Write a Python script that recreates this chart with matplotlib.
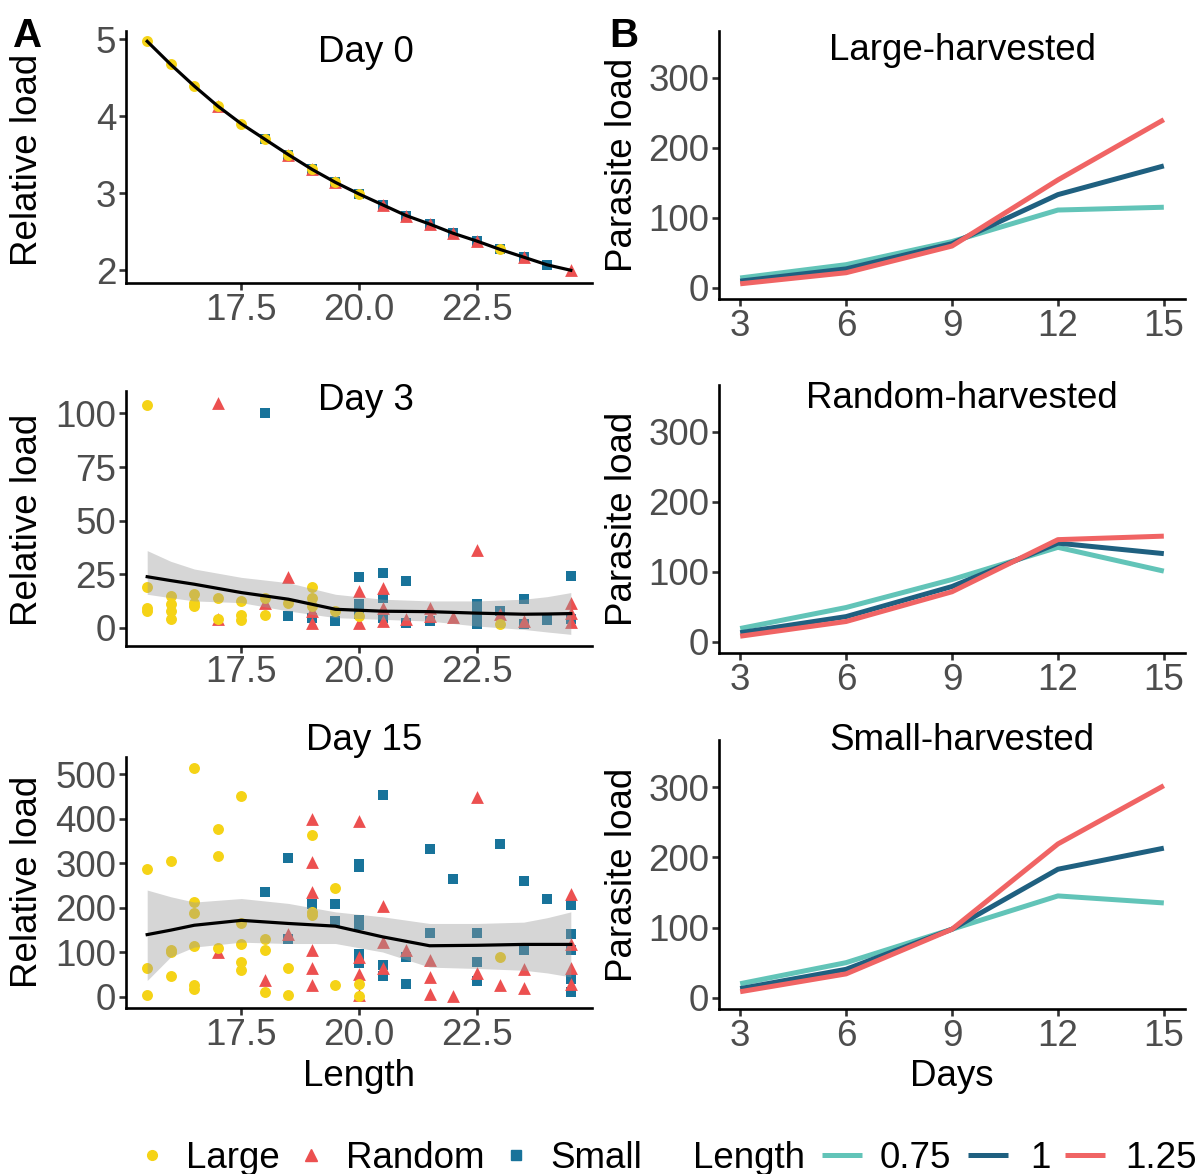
import matplotlib
matplotlib.use("Agg")
import matplotlib.pyplot as plt
from matplotlib.lines import Line2D
import numpy as np

plt.rcParams['font.family'] = ['Liberation Sans', 'DejaVu Sans']

# ---------------- Data: panel A ----------------
# Day 0
d0_large_x = [15.5, 16, 16.5, 17, 17.5, 18, 18.5, 19, 19.5, 20, 23]
d0_large_y = [4.97, 4.67, 4.39, 4.13, 3.90, 3.70, 3.50, 3.31, 3.14, 2.99, 2.27]
d0_random_x = [17, 18.5, 19, 19.5, 20.5, 21, 21.5, 22, 22.5, 23.5, 24.5]
d0_random_y = [4.13, 3.50, 3.31, 3.14, 2.85, 2.71, 2.60, 2.48, 2.38, 2.17, 2.00]
d0_small_x = [18, 18.5, 19, 19.5, 20, 20.5, 21, 21.5, 22, 22.5, 23, 23.5, 24]
d0_small_y = [3.70, 3.50, 3.31, 3.14, 2.99, 2.85, 2.71, 2.60, 2.48, 2.38, 2.27, 2.17, 2.07]
d0_fit_x = [15.5, 16, 16.5, 17, 17.5, 18, 18.5, 19, 19.5, 20, 20.5, 21, 21.5, 22, 22.5, 23, 23.5, 24, 24.5]
d0_fit_y = [4.97, 4.67, 4.39, 4.13, 3.90, 3.70, 3.50, 3.31, 3.14, 2.99, 2.85, 2.71, 2.60, 2.48, 2.38, 2.27, 2.17, 2.07, 2.00]

# Day 3
d3_large_x = [15.5, 15.5, 15.5, 15.5, 16, 16, 16, 16, 16.5, 16.5, 16.5, 17, 17, 17.5, 17.5, 17.5,
              18, 18, 18.5, 19, 19, 19, 19.5, 20, 23]
d3_large_y = [103.8, 19.2, 9, 8, 15, 11, 8, 4, 15.6, 11.7, 9.9, 14, 4, 12.5, 6, 3.4,
              14, 6, 11.7, 18.8, 14, 10, 7.8, 5.5, 1.9]
d3_random_x = [17, 17, 18, 18.5, 19, 19, 20, 20, 20.5, 20.5, 20.5, 21, 21.5, 21.5, 22, 22.5, 23,
               23.5, 24.5, 24.5, 24.5]
d3_random_y = [104.8, 4, 11.7, 23.5, 7.8, 2.3, 17.2, 2.3, 18.5, 9.4, 3, 4, 9.4, 5.5, 5, 36.3, 6.3,
               3, 11.3, 7, 2.8]
d3_small_x = [18, 18.5, 19, 19.5, 20, 20, 20, 20.5, 20.5, 20.5, 21, 21, 21.5, 22.5, 22.5, 22.5, 23,
              23.5, 23.5, 24, 24.5, 24.5]
d3_small_y = [100, 5.5, 4.7, 3.1, 23.5, 11, 6.3, 25.4, 14, 4.7, 21.9, 2.3, 3.1, 11, 6.3, 1.6, 7.8,
              13.3, 1.6, 3.4, 24, 3.9]

fit_x = [15.5, 16, 16.5, 17.5, 18.5, 19.5, 20.5, 21.5, 22.5, 23.5, 24, 24.5]
d3_fit = [23.8, 22, 20.3, 16.4, 13.3, 8.6, 7.7, 7.5, 6.8, 6.3, 6.4, 6.6]
d3_upper = [36, 31, 27.4, 23.5, 21, 15.6, 13.3, 12.5, 12.5, 13.3, 14.5, 16.4]
d3_lower = [15.6, 14, 12.5, 11.7, 7.8, 4.7, 3.9, 3.1, 0.8, -0.8, -2, -3.1]

# Day 15
d15_large_x = [15.5, 15.5, 15.5, 16, 16, 16, 16, 16.5, 16.5, 16.5, 16.5, 16.5, 16.5, 17, 17, 17,
               17.5, 17.5, 17.5, 17.5, 17.5, 18, 18, 18, 18.5, 18.5, 19, 19, 19, 19.5, 19.5,
               20, 20, 23]
d15_large_y = [287, 64, 4, 305, 106, 100, 46, 513, 213, 189, 115, 26, 19, 377, 316, 109,
               451, 165, 118, 79, 60, 131, 105, 11, 64, 5, 363, 191, 183, 245, 26,
               30, 1.5, 90]
d15_random_x = [17, 18, 18.5, 19, 19, 19, 19, 19, 19, 20, 20, 20, 20, 20.5, 20.5, 20.5, 21,
                21.5, 21.5, 21.5, 22, 22.5, 22.5, 23, 23.5, 23.5, 24.5, 24.5, 24.5, 24.5]
d15_random_y = [101, 39, 142, 399, 303, 236, 105, 64, 28, 394, 90, 52, 4, 204, 123, 64, 105,
                82, 45, 7, 1.5, 449, 54, 26, 62, 21, 232, 120, 64, 30]
d15_small_x = [18, 18.5, 18.5, 19, 19.5, 19.5, 20, 20, 20, 20, 20, 20, 20.5, 20.5, 20.5, 21, 21,
               21.5, 21.5, 22, 22.5, 22.5, 22.5, 23, 23.5, 23.5, 24, 24.5, 24.5, 24.5, 24.5, 24.5]
d15_small_y = [236, 313, 131, 208, 208, 171, 299, 292, 172, 161, 97, 76, 453, 71, 46, 90, 30,
               332, 144, 264, 144, 79, 35, 343, 260, 105, 221, 206, 142, 106, 41, 11]
d15_fit = [140, 150, 161, 172, 165, 159, 135, 115, 116, 118, 118, 118]
d15_upper = [240, 225, 213, 221, 210, 191, 180, 165, 165, 168, 178, 191]
d15_lower = [37, 90, 112, 123, 120, 120, 101, 67, 64, 60, 54, 45]

# ---------------- Data: panel B ----------------
days = [3, 6, 9, 12, 15]
size_levels = ["0.75", "1", "1.25"]
large_harv = {"0.75": [14, 33, 66, 111, 115],
              "1": [9.5, 27, 63, 133, 174],
              "1.25": [5.7, 21.5, 59.6, 154, 240]}
random_harv = {"0.75": [19, 49, 89, 135, 101],
               "1": [13, 36, 79, 141, 126],
               "1.25": [8, 29, 71.5, 146, 151]}
small_harv = {"0.75": [20, 50, 97.6, 145, 135],
              "1": [13, 40.5, 97.6, 183, 213],
              "1.25": [8.6, 34, 97.6, 219, 302]}

# ---------------- Styles ----------------
C_LARGE = "#F5D316"
C_RANDOM = "#EC5050"
C_SMALL = "#18739A"
LINE_COLS = {"0.75": "#62C4B8", "1": "#1F6080", "1.25": "#F06464"}
TICK_COL = "#4D4D4D"
FS = 26.5

W, H = 1202, 1174
fig = plt.figure(figsize=(W / 100, H / 100), dpi=100)


def rect(x0, y0, x1, y1):
    return [x0 / W, 1 - y1 / H, (x1 - x0) / W, (y1 - y0) / H]


def style(ax):
    for s in ["top", "right"]:
        ax.spines[s].set_visible(False)
    for s in ["left", "bottom"]:
        ax.spines[s].set_linewidth(1.9)
        ax.spines[s].set_color("black")
    ax.tick_params(axis="both", length=5, width=1.9, color="#333333",
                   labelsize=FS, labelcolor=TICK_COL)
    ax.tick_params(axis="x", pad=2)
    ax.tick_params(axis="y", pad=2)


def scatter_panel(ax, groups, fx, fy, lo=None, hi=None):
    sx, sy = groups["small"]
    rx, ry = groups["random"]
    lx, ly = groups["large"]
    ax.scatter(sx, sy, marker="s", s=52, color=C_SMALL, linewidths=0, zorder=2)
    ax.scatter(rx, ry, marker="^", s=85, color=C_RANDOM, linewidths=0, zorder=2)
    ax.scatter(lx, ly, marker="o", s=62, color=C_LARGE, linewidths=0, zorder=2)
    if lo is not None:
        ax.fill_between(fx, lo, hi, color="#999999", alpha=0.4, linewidth=0, zorder=3)
    ax.plot(fx, fy, color="black", lw=2.3, zorder=4)
    ax.set_xlim(15.05, 24.95)
    ax.set_xticks([17.5, 20.0, 22.5])
    ax.set_xticklabels(["17.5", "20.0", "22.5"])


# Panel A
axA0 = fig.add_axes(rect(126, 30.7, 592, 283))
scatter_panel(axA0, {"small": (d0_small_x, d0_small_y), "random": (d0_random_x, d0_random_y),
                     "large": (d0_large_x, d0_large_y)}, d0_fit_x, d0_fit_y)
axA0.set_ylim(1.835, 5.108)
axA0.set_yticks([2, 3, 4, 5])
style(axA0)

axA1 = fig.add_axes(rect(126, 391, 592, 645.7))
scatter_panel(axA1, {"small": (d3_small_x, d3_small_y), "random": (d3_random_x, d3_random_y),
                     "large": (d3_large_x, d3_large_y)}, fit_x, d3_fit, d3_lower, d3_upper)
axA1.set_ylim(-8.4, 110.5)
axA1.set_yticks([0, 25, 50, 75, 100])
style(axA1)

axA2 = fig.add_axes(rect(126, 757, 592, 1008))
scatter_panel(axA2, {"small": (d15_small_x, d15_small_y), "random": (d15_random_x, d15_random_y),
                     "large": (d15_large_x, d15_large_y)}, fit_x, d15_fit, d15_lower, d15_upper)
axA2.set_ylim(-24.7, 538.6)
axA2.set_yticks([0, 100, 200, 300, 400, 500])
style(axA2)

# Panel B
b_rects = [(30.7, 299), (385, 653), (740, 1009)]
b_data = [large_harv, random_harv, small_harv]
for (t, b), dat in zip(b_rects, b_data):
    ax = fig.add_axes(rect(719, t, 1185, b))
    for lvl in size_levels:
        ax.plot(days, dat[lvl], color=LINE_COLS[lvl], lw=3.6, solid_capstyle="butt", zorder=3)
    ax.set_xlim(2.4, 15.6)
    ax.set_ylim(-16, 367)
    ax.set_xticks(days)
    ax.set_yticks([0, 100, 200, 300])
    style(ax)


def ftext(x, y, s, **kw):
    fig.text(x / W, 1 - y / H, s, **kw)


# Titles
ftext(366, 53, "Day 0", fontsize=FS, ha="center", va="center")
ftext(366, 401, "Day 3", fontsize=FS, ha="center", va="center")
ftext(364, 741, "Day 15", fontsize=FS, ha="center", va="center")
ftext(962, 51, "Large-harvested", fontsize=FS, ha="center", va="center")
ftext(962, 399, "Random-harvested", fontsize=FS, ha="center", va="center")
ftext(962, 741, "Small-harvested", fontsize=FS, ha="center", va="center")

# Axis labels
for yc in [160, 520, 882]:
    ftext(28, yc, "Relative load", fontsize=FS, rotation=90, ha="center", va="center")
for yc in [165, 519, 875]:
    ftext(622, yc, "Parasite load", fontsize=FS, rotation=90, ha="center", va="center")
ftext(359, 1076, "Length", fontsize=FS, ha="center", va="center")
ftext(952, 1076, "Days", fontsize=FS, ha="center", va="center")

# Panel letters
ftext(13, 47, "A", fontsize=29, fontweight="bold", ha="left", va="baseline")
ftext(609, 47, "B", fontsize=29, fontweight="bold", ha="left", va="baseline")

# Legend
ly = 1155
base = 1168
fig.add_artist(Line2D([152 / W], [1 - ly / H], marker="o", markersize=7, color=C_LARGE, lw=0,
                      transform=fig.transFigure))
ftext(186, base, "Large", fontsize=FS, ha="left", va="baseline")
fig.add_artist(Line2D([311 / W], [1 - ly / H], marker="^", markersize=8, color=C_RANDOM, lw=0,
                      transform=fig.transFigure))
ftext(346, base, "Random", fontsize=FS, ha="left", va="baseline")
fig.add_artist(Line2D([516 / W], [1 - ly / H], marker="s", markersize=6.5, color=C_SMALL, lw=0,
                      transform=fig.transFigure))
ftext(550, base, "Small", fontsize=FS, ha="left", va="baseline")
ftext(693, base, "Length", fontsize=FS, ha="left", va="baseline")
for (x0, x1, tx), lvl in zip([(822, 862, 880), (968, 1008, 1030), (1065, 1105, 1125)], size_levels):
    fig.add_artist(Line2D([x0 / W, x1 / W], [1 - ly / H, 1 - ly / H], color=LINE_COLS[lvl], lw=3.6,
                          solid_capstyle="butt", transform=fig.transFigure))
    ftext(tx, base, lvl, fontsize=FS, ha="left", va="baseline")

fig.savefig("out.png", dpi=100)
